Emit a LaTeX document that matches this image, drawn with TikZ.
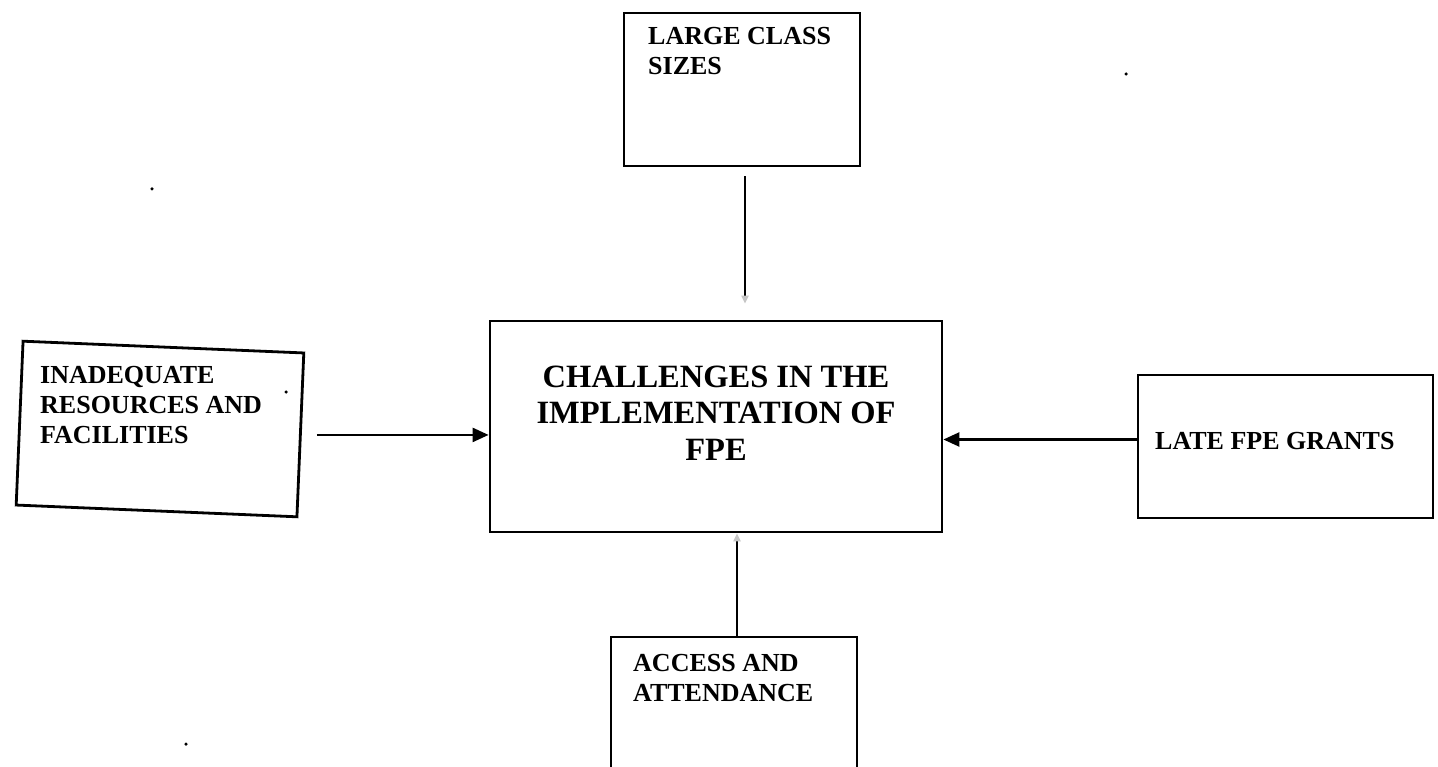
\documentclass[tikz,border=0pt]{standalone}
\usepackage{fontspec}
\setmainfont{Liberation Serif}
\usetikzlibrary{arrows.meta,calc}
\begin{document}
\begin{tikzpicture}[x=1pt,y=-1pt,
  box/.style={draw, line width=2.8pt, inner sep=0pt},
  smalltxt/.style={inner sep=0pt, anchor=base west, align=left, font=\fontsize{26}{30}\selectfont\bfseries},
  bigtxt/.style={inner sep=0pt, anchor=base, align=center, font=\fontsize{32.5}{36.5}\selectfont\bfseries},
  arr/.style={line width=2.4pt, -{Triangle[length=16pt,width=14pt]}},
  farr/.style={line width=2.4pt, -{Triangle[length=8pt,width=7pt,gray!45]}},
  speck/.style={circle, fill=black, inner sep=0pt, minimum size=3.5pt}]
\clip (0,0) rectangle (1438,767);
\fill[white] (0,0) rectangle (1438,767);
% boxes
\node[box, minimum width=236pt, minimum height=153pt] (top) at (742,89.5) {};
\node[box, minimum width=452pt, minimum height=211pt] (center) at (716,426.5) {};
\node[box, minimum width=281pt, minimum height=164pt, rotate=-2.4] (left) at (160,429) {};
\node[box, minimum width=295pt, minimum height=143pt] (right) at (1285.5,446.5) {};
\node[box, minimum width=246pt, minimum height=170pt] (bottom) at (734,722) {};
% texts (anchored at the baseline of the last line)
\node[smalltxt] (toptxt) at (648,75) {LARGE CLASS\\SIZES};
\node[bigtxt] (centertxt) at (716,460) {CHALLENGES IN THE\\IMPLEMENTATION OF\\FPE};
\node[smalltxt] (lefttxt) at (40,443) {INADEQUATE\\RESOURCES AND\\FACILITIES};
\node[smalltxt] (righttxt) at (1155,449) {LATE FPE GRANTS};
\node[smalltxt] (bottomtxt) at (633,701) {ACCESS AND\\ATTENDANCE};
% connectors
\draw[arr, shorten <=15pt] (left.east) -- (left.east -| center.west);
\draw[arr] ($(right.west)+(0,-7)$) coordinate (r0) -- (r0 -| center.east);
\draw[farr, shorten <=9pt, shorten >=16pt] ($(top.south)+(3,0)$) coordinate (t0) -- (t0 |- center.north);
\draw[farr] ($(bottom.north)+(3,0)$) coordinate (b0) -- (b0 |- center.south);
% specks
\node[speck] (s1) at (1126,74) {};
\node[speck] (s2) at (152,189) {};
\node[speck] (s3) at (286,392) {};
\node[speck] (s4) at (186,744) {};
\end{tikzpicture}
\end{document}
